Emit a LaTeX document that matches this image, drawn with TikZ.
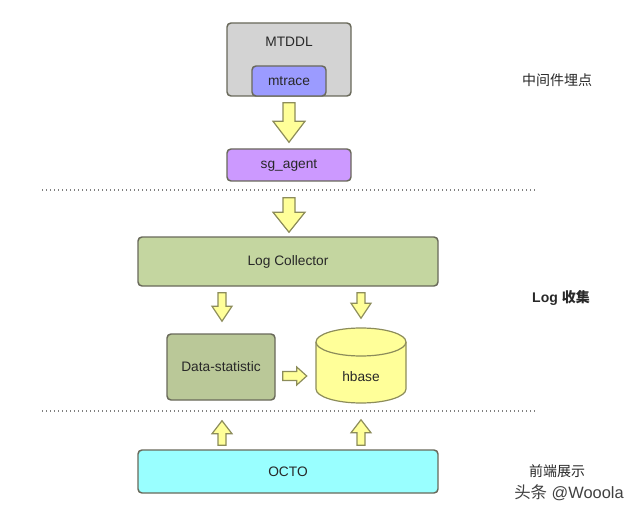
\documentclass[tikz,border=0pt]{standalone}
\usepackage{fontspec}
\setmainfont{Liberation Sans}
\newfontfamily\cjk{Noto Sans CJK SC}
\usepackage{tikz}
\usetikzlibrary{positioning}
\usetikzlibrary{calc}
\definecolor{grigio}{RGB}{211,211,211}
\definecolor{lilla}{RGB}{155,155,255}
\definecolor{viola}{RGB}{204,153,255}
\definecolor{verdino}{RGB}{196,214,160}
\definecolor{verdescuro}{RGB}{186,200,152}
\definecolor{giallino}{RGB}{255,255,153}
\definecolor{ciano}{RGB}{153,255,255}
\definecolor{bordo}{RGB}{105,105,90}
\definecolor{bordofreccia}{RGB}{140,140,90}
\definecolor{testo}{RGB}{40,40,40}
\tikzset{
  box text/.style={font={\fontsize{10.3}{12}\selectfont}, text=testo},
  box/.style={rectangle, rounded corners=3pt, draw=bordo, line width=1.1pt,
    inner sep=0pt, box text},
  fat arrow/.style={fill=giallino, draw=bordofreccia, line width=0.9pt, line join=miter},
  side label/.style={font={\cjk\fontsize{10.5}{12}\selectfont}, text=testo},
  separator/.style={draw=gray, line width=1pt, dotted},
}
\newcommand{\blockarrow}[5]{
    \coordinate (ba-s) at #1;
    \coordinate (ba-e) at #2;
    \coordinate (ba-h) at ($(ba-e)!#5!(ba-s)$);
    \draw[fat arrow]
        ($(ba-s)!#3!90:(ba-e)$) -- ($(ba-h)!#3!90:(ba-e)$)
        -- ($(ba-h)!#4!90:(ba-e)$) -- (ba-e)
        -- ($(ba-h)!#4!-90:(ba-e)$) -- ($(ba-h)!#3!-90:(ba-e)$)
        -- ($(ba-s)!#3!-90:(ba-e)$) -- cycle;
}

\begin{document}
\begin{tikzpicture}[x=0.75pt, y=-0.75pt]
    \useasboundingbox (0,0) rectangle (640,517);

    % middleware
    \node[box, fill=grigio, minimum width=93pt, minimum height=54.75pt,
        label={[anchor=center, yshift=-15pt, box text]north:MTDDL}]
        (mtddl) at (289,59.5) {};
    \node[box, fill=lilla, minimum width=55.5pt, minimum height=22.5pt] (mtrace) at (289,81) {mtrace};
    \node[box, fill=viola, minimum width=93pt, minimum height=24pt] (agent) at (289,165) {sg\_agent};

    % log collection
    \node[box, fill=verdino, minimum width=225pt, minimum height=36.75pt] (collector) at (288,261.5) {Log Collector};
    \node[box, fill=verdescuro, minimum width=81pt, minimum height=49.5pt] (datastat) at (221,367) {Data-statistic};

    \draw[fat arrow] (316,342) -- (316,389)
        arc[start angle=180, end angle=360, x radius=33.75pt, y radius=10.5pt]
        -- (406,342)
        arc[start angle=0, end angle=180, x radius=33.75pt, y radius=10.5pt] -- cycle;
    \draw[fat arrow] (316,342)
        arc[start angle=180, end angle=360, x radius=33.75pt, y radius=10.5pt];
    \node[minimum width=67.5pt, minimum height=56.25pt, inner sep=0pt,
        label={[anchor=center, yshift=-9pt, box text]center:hbase}]
        (hbase) at (361,365) {};

    % front end
    \node[box, fill=ciano, minimum width=225pt, minimum height=32.25pt] (octo) at (288,471.5) {OCTO};

    \blockarrow{($(mtddl.south)+(0,6)$)}{($(agent.north)+(0,-6)$)}{4.5pt}{12pt}{15.75pt}
    \blockarrow{($(agent.south)+(0,16)$)}{($(collector.north)+(1,-4)$)}{4.5pt}{12pt}{15pt}
    \blockarrow{($(datastat.north |- collector.south)+(1,6)$)}{($(datastat.north)+(1,-12)$)}{3pt}{7.5pt}{11.25pt}
    \blockarrow{($(hbase.north |- collector.south)+(0,6)$)}{($(hbase.north)+(0,-9)$)}{3pt}{7.5pt}{11.25pt}
    \blockarrow{($(datastat.east)+(7,9)$)}{($(hbase.west)+(-9,11)$)}{3.4pt}{6.75pt}{7.5pt}
    \blockarrow{($(datastat.south |- octo.north)+(1,-4)$)}{($(datastat.south)+(1,20)$)}{3pt}{7.5pt}{9.75pt}
    \blockarrow{($(hbase.south |- octo.north)+(0,-4)$)}{($(hbase.south)+(0,17)$)}{3pt}{7.5pt}{9.75pt}

    \coordinate (sepA-l) at (42,190);
    \coordinate (sepA-r) at (536,190);
    \coordinate (sepB-l) at (42,411);
    \coordinate (sepB-r) at (536,411);
    \draw[separator] (sepA-l) -- (sepA-r);
    \draw[separator] (sepB-l) -- (sepB-r);

    \node[side label] (lbl-mid) at (557,80) {中间件埋点};
    \node[side label, font={\bfseries\fontsize{10.5}{12}\selectfont}] (lbl-log) at (561,298) {Log {\cjk 收集}};
    \node[side label] (lbl-front) at (557,471) {前端展示};
    \node[side label, text=black!75, font={\fontsize{12.3}{14}\selectfont}] (mark) at (569,493) {{\cjk 头条} @Wooola};
\end{tikzpicture}
\end{document}
